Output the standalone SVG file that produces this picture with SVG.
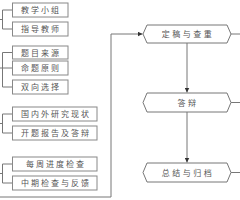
<svg xmlns="http://www.w3.org/2000/svg" width="240" height="200" viewBox="0 0 240 200">
<defs>
<marker id="ah" viewBox="0 0 6 6" refX="6" refY="3" markerWidth="5" markerHeight="5" orient="auto" markerUnits="userSpaceOnUse">
<path d="M0,0 L6,3 L0,6 Z" fill="#333"/>
</marker>
<style>
.box{fill:#fff;stroke:#888;stroke-width:1}
.hex{fill:#fff;stroke:#777;stroke-width:1}
.ln{fill:none;stroke:#777;stroke-width:1}
.t{font-family:"Noto Sans CJK SC","Noto Sans",sans-serif;font-size:8px;fill:#555;text-anchor:middle;letter-spacing:2px}
.th{letter-spacing:2.5px}
</style>
</defs>
<rect width="240" height="200" fill="#fff"/>
<g id="connectors">
<path class="ln" d="M2.5,10 V29 M2.5,10 H12.5 M2.5,29 H12.5 M0,19.5 H2.5"/>
<path class="ln" d="M2.5,52.5 V87 M2.5,52.5 H12.5 M2.5,68 H12.5 M2.5,87 H12.5 M0,68 H2.5"/>
<path class="ln" d="M2.5,114 V133 M2.5,114 H12.5 M2.5,133 H12.5 M0,123.5 H2.5"/>
<path class="ln" d="M2.5,164 V183 M2.5,164 H12.5 M2.5,183 H12.5 M0,173.5 H2.5"/>
<path class="ln" d="M0,197 H111 V34 H142.5" marker-end="url(#ah)"/>
<path class="ln" d="M187,43 V92.5" marker-end="url(#ah)"/>
<path class="ln" d="M187,112 V162.5" marker-end="url(#ah)"/>
<path class="ln" d="M231,34 H240 M231,102.5 H240 M231,172.5 H240"/>
</g>
<g id="n1"><rect class="box" x="12.5" y="3" width="55.5" height="14"/><text class="t" x="41" y="13">教学小组</text></g>
<g id="n2"><rect class="box" x="12.5" y="22" width="55.5" height="14"/><text class="t" x="41" y="32">指导教师</text></g>
<g id="n3"><rect class="box" x="12.5" y="46" width="55.5" height="13"/><text class="t" x="41" y="55.5">题目来源</text></g>
<g id="n4"><rect class="box" x="12.5" y="61" width="55.5" height="14"/><text class="t" x="41" y="71">命题原则</text></g>
<g id="n5"><rect class="box" x="12.5" y="80" width="55.5" height="14"/><text class="t" x="41" y="90">双向选择</text></g>
<g id="n6"><rect class="box" x="12.5" y="107" width="84.5" height="14"/><text class="t" x="56" y="117">国内外研究现状</text></g>
<g id="n7"><rect class="box" x="12.5" y="126" width="84.5" height="14"/><text class="t" x="56" y="136">开题报告及答辩</text></g>
<g id="n8"><rect class="box" x="12.5" y="157" width="84.5" height="14"/><text class="t" x="56" y="167">每周进度检查</text></g>
<g id="n9"><rect class="box" x="12.5" y="176" width="84.5" height="14"/><text class="t" x="56" y="186">中期检查与反馈</text></g>
<g id="h1"><polygon class="hex" points="143,34 147,25 227,25 231,34 227,43 147,43"/><text class="t th" x="188" y="37">定稿与查重</text></g>
<g id="h2"><polygon class="hex" points="143,102.5 147,93 227,93 231,102.5 227,112 147,112"/><text class="t th" x="188" y="105.5">答辩</text></g>
<g id="h3"><polygon class="hex" points="143,172.5 147,163 227,163 231,172.5 227,182 147,182"/><text class="t th" x="188" y="175.5">总结与归档</text></g>
</svg>
